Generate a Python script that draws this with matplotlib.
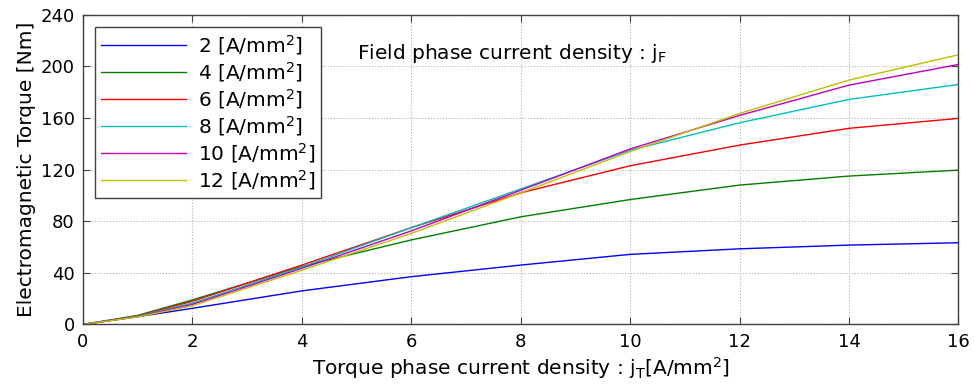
import matplotlib
matplotlib.use('Agg')
import matplotlib.pyplot as plt

# torque phase current density jT [A/mm2]
jT = [0, 1, 2, 4, 6, 8, 10, 12, 14, 16]

# field phase current density jF [A/mm2]
jF_labels = ['2', '4', '6', '8', '10', '12']

torque_2 = [0, 6.0, 12.5, 26, 37, 46, 54.3, 58.6, 61.5, 63.3]
torque_4 = [0, 7.0, 19, 45, 65.5, 83.4, 96.8, 108, 115, 119.6]
torque_6 = [0, 6.5, 18, 46, 75, 102, 123, 139, 152, 159.7]
torque_8 = [0, 6.3, 16.5, 44.5, 75, 105, 135, 156.3, 174.4, 186]
torque_10 = [0, 6.0, 15.5, 43.5, 72.5, 104, 136, 162, 185.5, 201.5]
torque_12 = [0, 5.8, 14.5, 42, 70.5, 102, 134, 163.5, 189.4, 209]

torques = [torque_2, torque_4, torque_6, torque_8, torque_10, torque_12]
colors = ['#0000ff', '#008000', '#ff0000', '#00bfbf', '#bf00bf', '#bfbf00']

plt.rcParams['font.family'] = ['DejaVu Sans']
plt.rcParams['font.size'] = 12.5
plt.rcParams['mathtext.default'] = 'regular'

fig = plt.figure(figsize=(9.75, 3.89), dpi=100)
ax = fig.add_axes([0.0851, 0.166, 0.8979, 0.796])

for vals, lab, c in zip(torques, jF_labels, colors):
    ax.plot(jT, vals, color=c, lw=1.0, label=lab + r' [A/mm$^2$]')

ax.set_xlim(0, 16)
ax.set_ylim(0, 240)
ax.set_xticks(range(0, 17, 2))
ax.set_yticks(range(0, 241, 40))
ax.grid(True, linestyle=':', color='#b0b0b0', lw=0.8)
ax.tick_params(direction='in', top=True, right=True, length=5, color='#404040',
               pad=6, labelsize=13)
for s in ax.spines.values():
    s.set_color('#404040')
    s.set_linewidth(1.0)

ax.set_xlabel(r'Torque phase current density : j$_T$[A/mm$^2$]', fontsize=14.5, labelpad=3)
ax.set_ylabel('Electromagnetic Torque [Nm]', fontsize=14.5, labelpad=3)

ax.text(5.0, 206, r'Field phase current density : j$_F$', fontsize=14.5)

leg = ax.legend(loc='upper left', bbox_to_anchor=(0.0137, 0.96), fancybox=False,
                edgecolor='#404040', framealpha=1, handlelength=4.2, fontsize=14.5,
                borderpad=0.3, labelspacing=0.15, handletextpad=0.6, borderaxespad=0)
leg.get_frame().set_linewidth(1.0)

fig.savefig('out.png', dpi=100)
